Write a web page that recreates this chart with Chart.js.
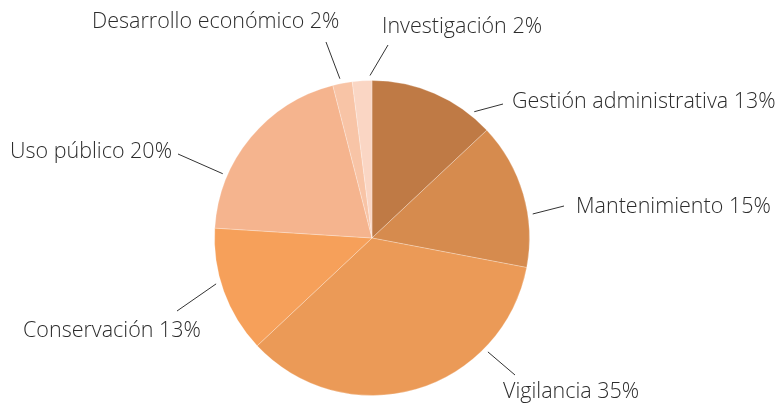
<!DOCTYPE html>
<html>
<head>
<meta charset="utf-8">
<script src="https://cdn.jsdelivr.net/npm/chart.js@4"></script>
<style>
  html, body { margin: 0; padding: 0; background: #fff; }
  #wrap { width: 779px; height: 404px; position: relative; }
</style>
</head>
<body>
<div id="wrap"><canvas id="pie"></canvas></div>
<script>
// datos del gráfico
const categorias = ['Gestión administrativa', 'Mantenimiento', 'Vigilancia', 'Conservación', 'Uso público', 'Desarrollo económico', 'Investigación']
const porcentajes = [13, 15, 35, 13, 20, 2, 2]
const colores = ['#BF7A45', '#D68B4E', '#EB9A57', '#F6A05A', '#F5B48E', '#F8C4A6', '#FAD6C4']

// posición de cada etiqueta: ángulo del inicio de la línea guía, fin de la línea, texto
const etiquetas = [
    { ang: 39, fin: [503, 104], txt: [512, 102] },
    { ang: 81.5, fin: [564, 206], txt: [576, 207] },
    { ang: 134.5, fin: [515, 375], txt: [503, 392] },
    { ang: 253.6, fin: [177, 311], txt: [23, 331] },
    { ang: 293.3, fin: [178, 154], txt: [10, 152] },
    { ang: 348.6, fin: [326, 42], txt: [92, 22] },
    { ang: 359.3, fin: [388, 45], txt: [382, 27] }
]

const pluginEtiquetas = {
    id: 'etiquetas',
    afterDraw(chart) {
        const ctx = chart.ctx
        const arc = chart.getDatasetMeta(0).data[0]
        const cx = arc.x, cy = arc.y, r = arc.outerRadius
        ctx.save()
        ctx.strokeStyle = '#333'
        ctx.lineWidth = 1
        ctx.fillStyle = '#2c2c2c'
        ctx.font = '300 21.5px "Open Sans"'
        ctx.textBaseline = 'middle'
        etiquetas.forEach((e, i) => {
            const a = e.ang * Math.PI / 180
            const x0 = cx + (r + 5) * Math.sin(a)
            const y0 = cy - (r + 5) * Math.cos(a)
            ctx.beginPath()
            ctx.moveTo(x0, y0)
            ctx.lineTo(e.fin[0], e.fin[1])
            ctx.stroke()
            ctx.fillText(categorias[i] + ' ' + porcentajes[i] + '%', e.txt[0], e.txt[1])
        })
        ctx.restore()
    }
}

new Chart(document.getElementById('pie'), {
    type: 'pie',
    data: {
        labels: categorias,
        datasets: [{
            data: porcentajes,
            backgroundColor: colores,
            borderColor: 'rgba(255,255,255,0.25)',
            borderWidth: 1
        }]
    },
    options: {
        responsive: true,
        maintainAspectRatio: false,
        animation: false,
        layout: { padding: { top: 80, bottom: 8, left: 0, right: 35 } },
        plugins: {
            legend: { display: false },
            tooltip: { enabled: false }
        }
    },
    plugins: [pluginEtiquetas]
})
</script>
</body>
</html>
